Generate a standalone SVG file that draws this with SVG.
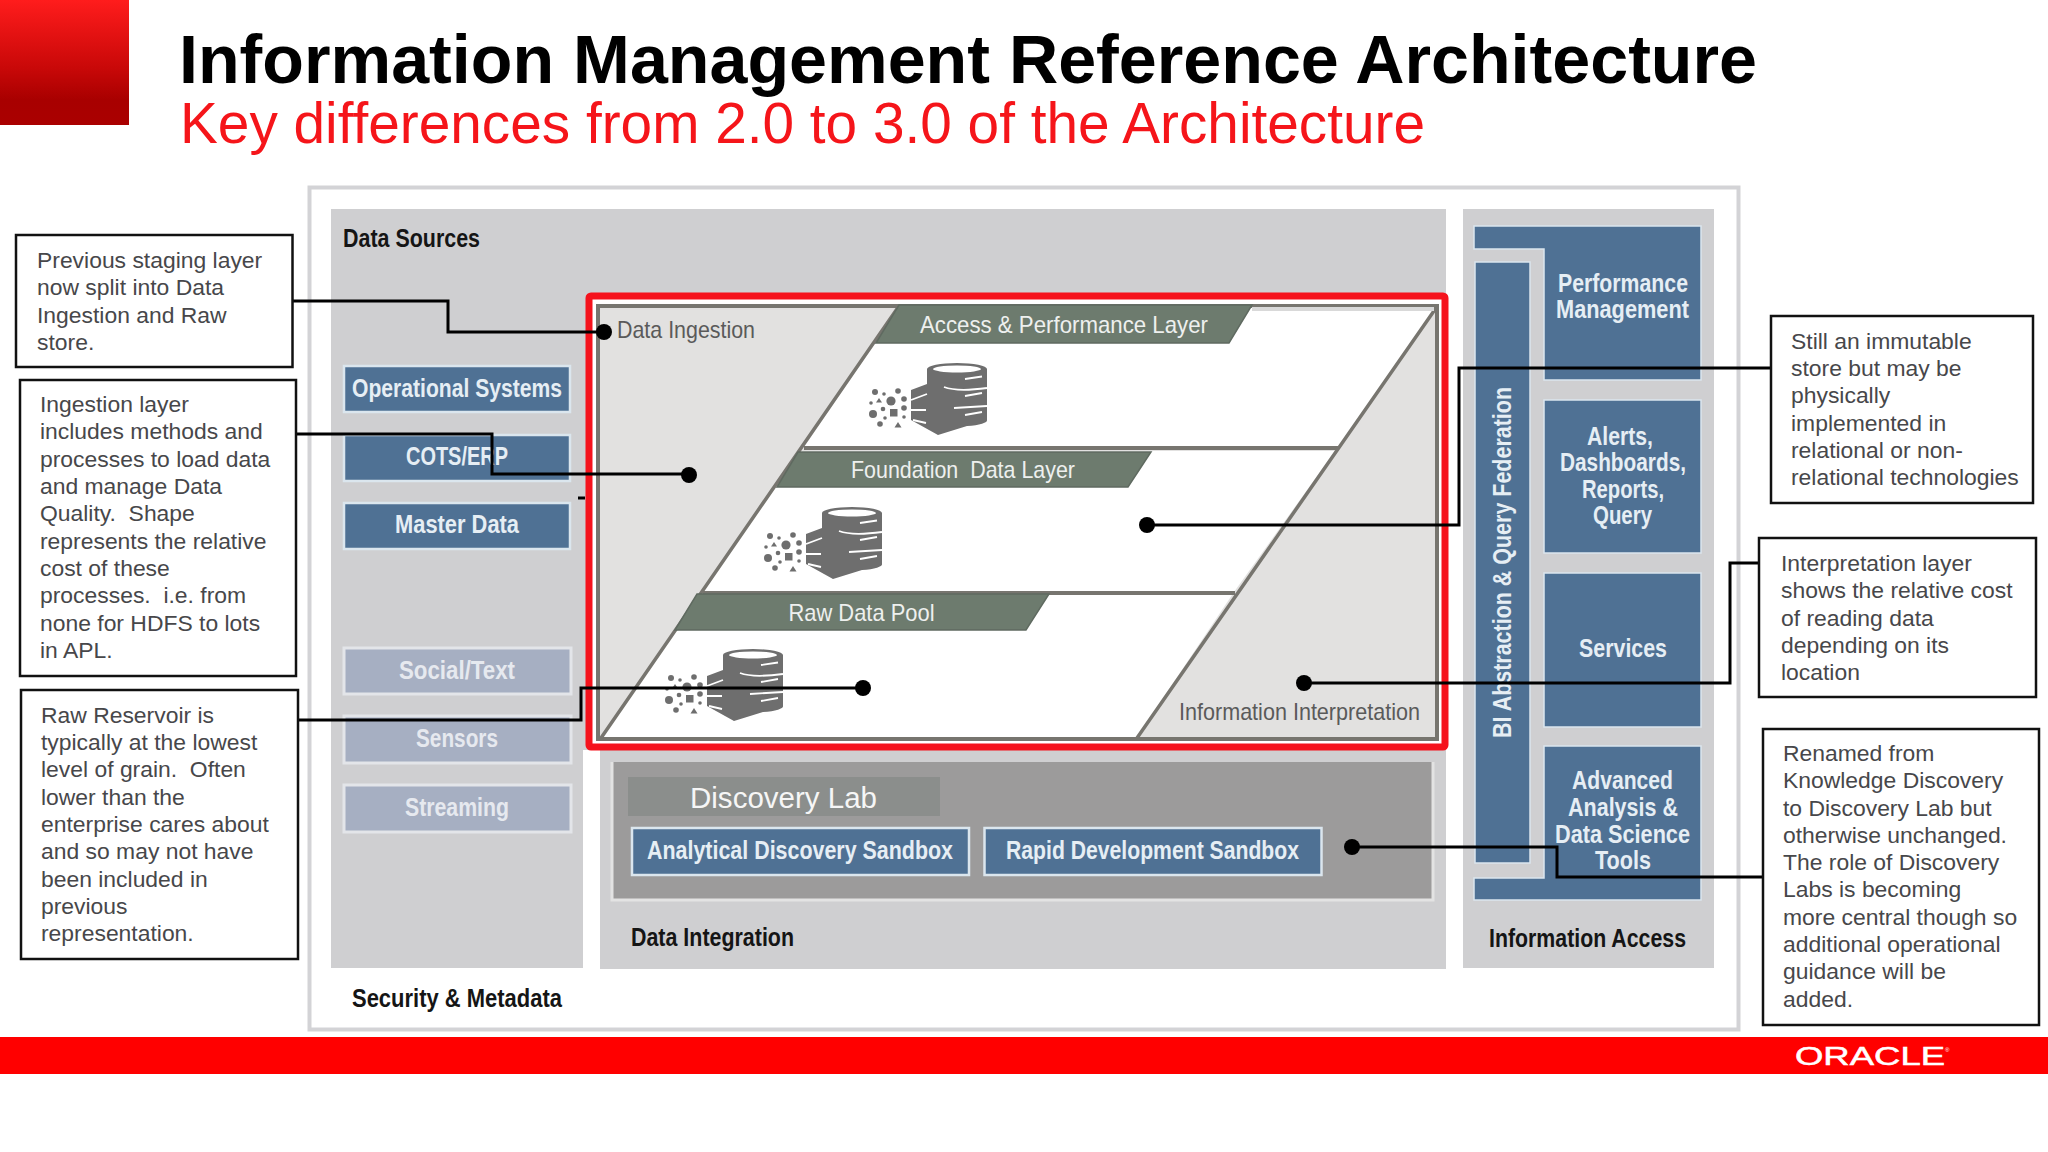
<svg xmlns="http://www.w3.org/2000/svg" xmlns:xlink="http://www.w3.org/1999/xlink" width="2048" height="1152" viewBox="0 0 2048 1152">
<style>
text{font-family:"Liberation Sans",Arial,sans-serif}
.call{fill:#fff;stroke:#111;stroke-width:2.5}
.ct{font-size:22.9px;fill:#47474a;white-space:pre}
.pan{fill:#cfcfd1}
.blue{fill:#4f7194;stroke:#dbe6ee;stroke-width:2.5}
.bluen{fill:#4f7194;stroke:#dbe6ee;stroke-width:1.5}
.pale{fill:#a6afc2;stroke:#e3e5e9;stroke-width:3}
.bt{font-weight:700;font-size:26px;fill:#e6eef4}
.pt{font-weight:700;font-size:26px;fill:#e6e9ef}
.lab{font-weight:700;font-size:26px;fill:#151515}
.ban{fill:#6d7b6e;stroke:#5f6a60;stroke-width:1.5}
.bant{font-size:24px;fill:#eef0ee;white-space:pre}
.greyt{font-size:24px;fill:#5a5a5a}
.wh{fill:#fff}
.edge{fill:none;stroke:#77756f;stroke-width:3.5}
.ic{fill:#6e6e6e}
.ics{fill:none;stroke:#fff;stroke-width:1.8}
.conn{fill:none;stroke:#000;stroke-width:3}
.dot{fill:#000}
</style>
<defs>
<linearGradient id="sq" x1="0" y1="0" x2="0" y2="1"><stop offset="0" stop-color="#ff1c1c"/><stop offset="0.55" stop-color="#c80808"/><stop offset="0.8" stop-color="#a80000"/><stop offset="1" stop-color="#aa0000"/></linearGradient>
<g id="dbicon">
<path class="ic" d="M60,6 A30,6 0 0 1 120,6 V57 A30,6 0 0 1 100,63 L71,72 L44,57 V27 L60,21 Z"/>
<ellipse cx="90" cy="6" rx="24" ry="3.5" fill="#fff"/>
<path class="ics" d="M98,16 L115,13.500 M77,24 Q90,29 120,25 M98,33 L115,30 M87,45 L120,43 M98,52 L115,49 M44,37 L60,31 M44,47 L59,47 M46,57 L59,60"/>
<g class="ic"><circle cx="8" cy="29" r="3"/><circle cx="17" cy="31" r="1.8"/><circle cx="31" cy="28" r="2.8"/><circle cx="4" cy="40" r="1.8"/><path d="M12,35 l3,4.500 h-6z"/><circle cx="24" cy="38" r="4.600"/><circle cx="37" cy="36" r="2.8"/><circle cx="16" cy="46" r="2.300"/><circle cx="6" cy="51" r="4"/><rect x="23" y="46" width="7.500" height="7.500"/><circle cx="37" cy="45" r="2.8"/><circle cx="18" cy="55" r="1.8"/><circle cx="37" cy="54" r="1.8"/><circle cx="13" cy="61" r="2.8"/><path d="M31,59 l3.500,5.500 h-7z"/></g>
</g>
</defs>
<rect width="2048" height="1152" fill="#fff"/>
<g id="header">
<rect x="0" y="0" width="129" height="125" fill="url(#sq)"/>
<text x="179" y="83" font-size="68" font-weight="700" fill="#000" textLength="1578" lengthAdjust="spacingAndGlyphs">Information Management Reference Architecture</text>
<text x="180" y="143" font-size="58" fill="#f5151a" textLength="1245" lengthAdjust="spacingAndGlyphs">Key differences from 2.0 to 3.0 of the Architecture</text>
</g>
<g id="frame"><rect x="309.500" y="187.500" width="1429" height="842" fill="#fff" stroke="#d3d3d6" stroke-width="4"/></g>
<g id="data-sources">
<path class="pan" d="M331,209 H1446 V969 H600 V750 H583 V968 H331 Z"/>
<text class="lab" x="343" y="247" textLength="137" lengthAdjust="spacingAndGlyphs">Data Sources</text>
<text class="lab" x="352" y="1007" textLength="210" lengthAdjust="spacingAndGlyphs">Security &amp; Metadata</text>
<text class="lab" x="631" y="946" textLength="163" lengthAdjust="spacingAndGlyphs">Data Integration</text>
</g>
<g id="src-operational"><rect class="blue" x="344" y="366" width="226" height="46"/><text class="bt" x="352" y="397" textLength="210" lengthAdjust="spacingAndGlyphs">Operational Systems</text></g>
<g id="src-cots"><rect class="blue" x="344" y="435" width="226" height="46"/><text class="bt" x="406" y="465" textLength="102" lengthAdjust="spacingAndGlyphs">COTS/ERP</text></g>
<g id="src-master"><rect class="blue" x="344" y="503" width="226" height="46"/><text class="bt" x="395" y="533" textLength="124" lengthAdjust="spacingAndGlyphs">Master Data</text></g>
<g id="src-social"><rect class="pale" x="344" y="648" width="227" height="46"/><text class="pt" x="399" y="679" textLength="116" lengthAdjust="spacingAndGlyphs">Social/Text</text></g>
<g id="src-sensors"><rect class="pale" x="344" y="716" width="227" height="47"/><text class="pt" x="416" y="747" textLength="82" lengthAdjust="spacingAndGlyphs">Sensors</text></g>
<g id="src-streaming"><rect class="pale" x="344" y="785" width="227" height="47"/><text class="pt" x="405" y="816" textLength="104" lengthAdjust="spacingAndGlyphs">Streaming</text></g>
<g id="data-reservoir">
<rect x="589" y="296" width="856" height="451" fill="#fff" stroke="#f5121c" stroke-width="7" rx="2"/>
<rect x="598" y="306" width="839" height="433" fill="#e2e1e0" stroke="#77756f" stroke-width="4"/>
<path class="wh" d="M899,308 H1435 L1338,447 H804 Z"/>
<path class="wh" d="M798,451 H1335 L1234,592 H703 Z"/>
<path class="wh" d="M697,595 H1232 L1137,737 H603 Z"/>
<path class="edge" d="M899,306 L601,738 M1436,308 L1137,738"/>
<path d="M804,448 H1338 M703,593 H1235" fill="none" stroke="#77756f" stroke-width="4"/>
<path d="M1252,309 H1434" fill="none" stroke="#d9d9d9" stroke-width="4"/>
<text class="greyt" x="617" y="338" textLength="138" lengthAdjust="spacingAndGlyphs">Data Ingestion</text>
<text class="greyt" x="1179" y="720" textLength="241" lengthAdjust="spacingAndGlyphs">Information Interpretation</text>
</g>
<g id="layer-access"><path class="ban" d="M899,305 H1252 L1229,343 H876 Z"/><text class="bant" x="920" y="333" textLength="288" lengthAdjust="spacingAndGlyphs">Access &amp; Performance Layer</text><use xlink:href="#dbicon" href="#dbicon" x="867" y="363"/></g>
<g id="layer-foundation"><path class="ban" d="M798,452 H1151 L1128,487 H777 Z"/><text class="bant" x="851" y="478" textLength="224" lengthAdjust="spacingAndGlyphs">Foundation  Data Layer</text><use xlink:href="#dbicon" href="#dbicon" x="762" y="507"/></g>
<g id="layer-raw"><path class="ban" d="M697,594 H1049 L1026,630 H675 Z"/><text class="bant" x="788.500" y="621" textLength="146" lengthAdjust="spacingAndGlyphs">Raw Data Pool</text><use xlink:href="#dbicon" href="#dbicon" x="663" y="649"/></g>
<g id="discovery-lab">
<path d="M612,762 V900 H1433 V762 Z" fill="#9c9b9b"/>
<path d="M612,762 V900 H1433 V762" fill="none" stroke="#e3e3e3" stroke-width="3"/>
<rect x="628" y="777" width="312" height="39" fill="#8b8e8c"/>
<text x="690" y="808" font-size="30" fill="#f6f6f6" textLength="187" lengthAdjust="spacingAndGlyphs">Discovery Lab</text>
</g>
<g id="sandbox-analytical"><rect class="blue" x="632" y="828" width="337" height="47"/><text class="bt" x="647" y="859" textLength="306" lengthAdjust="spacingAndGlyphs">Analytical Discovery Sandbox</text></g>
<g id="sandbox-rapid"><rect class="blue" x="984.500" y="828" width="337" height="47"/><text class="bt" x="1006" y="859" textLength="293" lengthAdjust="spacingAndGlyphs">Rapid Development Sandbox</text></g>
<g id="information-access">
<rect class="pan" x="1463" y="209" width="251" height="759"/>
<text class="lab" x="1489" y="947" textLength="197" lengthAdjust="spacingAndGlyphs">Information Access</text>
</g>
<g id="ia-performance"><path class="bluen" d="M1474,226 H1701 V380 H1544 V249 H1474 Z"/><text class="bt" x="1558" y="292" textLength="130" lengthAdjust="spacingAndGlyphs">Performance</text><text class="bt" x="1556" y="318" textLength="133" lengthAdjust="spacingAndGlyphs">Management</text></g>
<g id="ia-bi"><rect class="bluen" x="1475" y="262" width="55" height="601"/><text class="bt" transform="translate(1511 738) rotate(-90)" x="0" y="0" textLength="351" lengthAdjust="spacingAndGlyphs">BI Abstraction &amp; Query Federation</text></g>
<g id="ia-alerts"><rect class="bluen" x="1544" y="400" width="157" height="153"/><text class="bt" x="1587" y="445" textLength="66" lengthAdjust="spacingAndGlyphs">Alerts,</text><text class="bt" x="1560" y="471" textLength="126" lengthAdjust="spacingAndGlyphs">Dashboards,</text><text class="bt" x="1582" y="498" textLength="82" lengthAdjust="spacingAndGlyphs">Reports,</text><text class="bt" x="1593" y="524" textLength="59" lengthAdjust="spacingAndGlyphs">Query</text></g>
<g id="ia-services"><rect class="bluen" x="1544" y="573" width="157" height="154"/><text class="bt" x="1579" y="657" textLength="88" lengthAdjust="spacingAndGlyphs">Services</text></g>
<g id="ia-advanced"><path class="bluen" d="M1544,746 H1701 V900 H1474 V878 H1544 Z"/><text class="bt" x="1572" y="789" textLength="101" lengthAdjust="spacingAndGlyphs">Advanced</text><text class="bt" x="1568" y="816" textLength="110" lengthAdjust="spacingAndGlyphs">Analysis &amp;</text><text class="bt" x="1555" y="843" textLength="135" lengthAdjust="spacingAndGlyphs">Data Science</text><text class="bt" x="1595" y="869" textLength="56" lengthAdjust="spacingAndGlyphs">Tools</text></g>
<g id="footer">
<rect x="0" y="1037" width="2048" height="37" fill="#ff0000"/>
<text x="1795" y="1065" font-size="25" fill="#fff" stroke="#fff" stroke-width="0.5" textLength="150" lengthAdjust="spacingAndGlyphs">ORACLE</text>
<text x="1945" y="1052" font-size="6" fill="#fff">®</text>
</g>
<g id="connectors">
<path class="conn" d="M292,301 H448 V332 H604"/><circle class="dot" cx="604" cy="332" r="8"/>
<path class="conn" d="M296,434 H492 V474 H689"/><circle class="dot" cx="689" cy="475" r="8"/>
<path class="conn" d="M298,720 H581 V688 H863"/><circle class="dot" cx="863" cy="688" r="8"/>
<path class="conn" d="M1147,525 H1459 V368 H1771"/><circle class="dot" cx="1147" cy="525" r="8"/>
<path class="conn" d="M1304,683 H1730 V563 H1759"/><circle class="dot" cx="1304" cy="683" r="8"/>
<path class="conn" d="M1352,847 H1557 V877 H1762"/><circle class="dot" cx="1352" cy="847" r="8"/>
<path class="conn" d="M578,498 H585"/>
</g>
<g id="note-staging"><rect class="call" x="16" y="235" width="276.500" height="132"/>
<text class="ct"><tspan x="37" y="268">Previous staging layer</tspan><tspan x="37" y="295">now split into Data</tspan><tspan x="37" y="323">Ingestion and Raw</tspan><tspan x="37" y="350">store.</tspan></text></g>
<g id="note-ingestion"><rect class="call" x="20" y="380" width="276" height="296"/>
<text class="ct"><tspan x="40" y="412">Ingestion layer</tspan><tspan x="40" y="439">includes methods and</tspan><tspan x="40" y="467">processes to load data</tspan><tspan x="40" y="494">and manage Data</tspan><tspan x="40" y="521">Quality.  Shape</tspan><tspan x="40" y="549">represents the relative</tspan><tspan x="40" y="576">cost of these</tspan><tspan x="40" y="603">processes.  i.e. from</tspan><tspan x="40" y="631">none for HDFS to lots</tspan><tspan x="40" y="658">in APL.</tspan></text></g>
<g id="note-raw"><rect class="call" x="21" y="690" width="277" height="269"/>
<text class="ct"><tspan x="41" y="723">Raw Reservoir is</tspan><tspan x="41" y="750">typically at the lowest</tspan><tspan x="41" y="777">level of grain.  Often</tspan><tspan x="41" y="805">lower than the</tspan><tspan x="41" y="832">enterprise cares about</tspan><tspan x="41" y="859">and so may not have</tspan><tspan x="41" y="887">been included in</tspan><tspan x="41" y="914">previous</tspan><tspan x="41" y="941">representation.</tspan></text></g>
<g id="note-immutable"><rect class="call" x="1771" y="316" width="262" height="187"/>
<text class="ct"><tspan x="1791" y="349">Still an immutable</tspan><tspan x="1791" y="376">store but may be</tspan><tspan x="1791" y="403">physically</tspan><tspan x="1791" y="431">implemented in</tspan><tspan x="1791" y="458">relational or non-</tspan><tspan x="1791" y="485">relational technologies</tspan></text></g>
<g id="note-interpretation"><rect class="call" x="1759" y="538" width="277" height="159"/>
<text class="ct"><tspan x="1781" y="571">Interpretation layer</tspan><tspan x="1781" y="598">shows the relative cost</tspan><tspan x="1781" y="626">of reading data</tspan><tspan x="1781" y="653">depending on its</tspan><tspan x="1781" y="680">location</tspan></text></g>
<g id="note-discovery"><rect class="call" x="1763" y="729" width="276" height="296"/>
<text class="ct"><tspan x="1783" y="761">Renamed from</tspan><tspan x="1783" y="788">Knowledge Discovery</tspan><tspan x="1783" y="816">to Discovery Lab but</tspan><tspan x="1783" y="843">otherwise unchanged.</tspan><tspan x="1783" y="870">The role of Discovery</tspan><tspan x="1783" y="897">Labs is becoming</tspan><tspan x="1783" y="925">more central though so</tspan><tspan x="1783" y="952">additional operational</tspan><tspan x="1783" y="979">guidance will be</tspan><tspan x="1783" y="1007">added.</tspan></text></g>
</svg>
